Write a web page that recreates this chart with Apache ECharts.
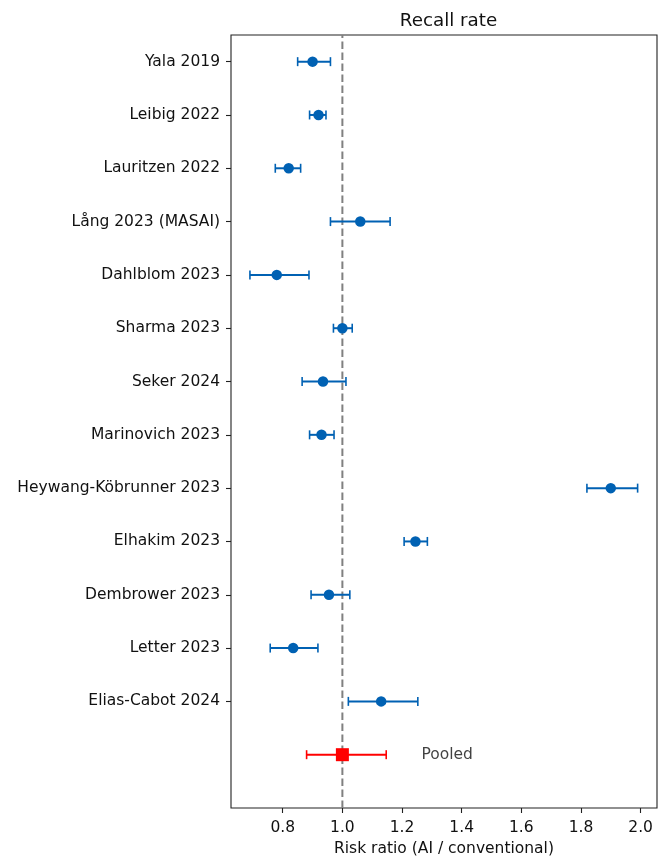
<!DOCTYPE html>
<html>
<head>
<meta charset="utf-8">
<title>Recall rate</title>
<script src="https://cdn.jsdelivr.net/npm/echarts@6/dist/echarts.min.js"></script>
<style>
  html, body { margin: 0; padding: 0; background: #fff; }
  #chart { width: 665px; height: 856px; }
</style>
</head>
<body>
<div id="chart"></div>
<script>
// Studies, listed top to bottom
const studies = [
  'Yala 2019', 'Leibig 2022', 'Lauritzen 2022', 'Lång 2023 (MASAI)',
  'Dahlblom 2023', 'Sharma 2023', 'Seker 2024', 'Marinovich 2023',
  'Heywang-Köbrunner 2023', 'Elhakim 2023', 'Dembrower 2023',
  'Letter 2023', 'Elias-Cabot 2024'
];
// Risk ratio (AI / conventional) with 95% CI
const rr    = [0.90, 0.92, 0.82, 1.06, 0.78, 1.00, 0.935, 0.93, 1.90, 1.245, 0.955, 0.835, 1.13];
const ciLow = [0.85, 0.89, 0.775, 0.96, 0.69, 0.97, 0.865, 0.89, 1.82, 1.207, 0.895, 0.758, 1.02];
const ciHigh= [0.96, 0.945, 0.86, 1.16, 0.888, 1.033, 1.012, 0.972, 1.99, 1.285, 1.025, 0.918, 1.253];

const pooledRR = 1.00;
const pooledLow = 0.88;
const pooledHigh = 1.147;
const pooledName = 'Pooled';

const xTicks = [0.8, 1.0, 1.2, 1.4, 1.6, 1.8, 2.0];
const refValue = 1.0;

// Row positions: first study on top, pooled estimate at 0
const n = studies.length;
const rowY = studies.map((_, i) => n - i);
const pooledY = 0;
const yMin = -1;
const yMax = n + 0.5;
const labelX = 1.265;

const FONT = 'DejaVu Sans';
const FS = 15.5;
const BLUE = '#0061b3';
const RED = '#ff0000';

const studyPoints = rr.map((v, i) => [v, rowY[i]]);
const studyBars = rr.map((_, i) => [ciLow[i], ciHigh[i], rowY[i]]);

function errorBar(color) {
  return function (params, api) {
    const y = api.value(2);
    const a = api.coord([api.value(0), y]);
    const b = api.coord([api.value(1), y]);
    const h = 4.5;
    return {
      type: 'group',
      children: [
        { type: 'line', shape: { x1: a[0], y1: a[1], x2: b[0], y2: b[1] },
          style: { stroke: color, lineWidth: 2 } },
        { type: 'line', shape: { x1: a[0], y1: a[1] - h, x2: a[0], y2: a[1] + h },
          style: { stroke: color, lineWidth: 1.6 } },
        { type: 'line', shape: { x1: b[0], y1: b[1] - h, x2: b[0], y2: b[1] + h },
          style: { stroke: color, lineWidth: 1.6 } }
      ]
    };
  };
}

const yLabelMap = {};
studies.forEach((s, i) => { yLabelMap[rowY[i]] = s; });

const chart = echarts.init(document.getElementById('chart'), null, { renderer: 'canvas' });

chart.setOption({
  animation: false,
  backgroundColor: '#fff',
  textStyle: { fontFamily: FONT },
  title: {
    text: 'Recall rate',
    left: 443.5,
    textAlign: 'center',
    top: 7,
    textStyle: { fontFamily: FONT, fontSize: 18.3, fontWeight: 'normal', color: '#111' }
  },
  grid: {
    left: 231, right: 8, top: 35, bottom: 48,
    outerBoundsMode: 'none',
    containLabel: false,
    show: true, borderColor: '#222', borderWidth: 1.1, backgroundColor: 'transparent'
  },
  xAxis: {
    type: 'value',
    min: 0.6265,
    max: 2.055,
    name: 'Risk ratio (AI / conventional)',
    nameLocation: 'middle',
    nameGap: 32,
    nameTextStyle: { fontFamily: FONT, fontSize: FS, color: '#111' },
    splitLine: { show: false },
    axisLine: { show: false, onZero: false },
    axisTick: { show: true, length: 5, inside: false, customValues: xTicks,
                lineStyle: { color: '#222', width: 1.1 } },
    axisLabel: { customValues: xTicks, margin: 12, fontFamily: FONT, fontSize: FS, color: '#111',
                 formatter: v => Number(v).toFixed(1) }
  },
  yAxis: {
    type: 'value',
    min: yMin,
    max: yMax,
    splitLine: { show: false },
    axisLine: { show: false, onZero: false },
    axisTick: { show: true, length: 5, customValues: rowY,
                lineStyle: { color: '#222', width: 1.1 } },
    axisLabel: { customValues: rowY, margin: 11, fontFamily: FONT, fontSize: FS, color: '#111',
                 formatter: v => yLabelMap[Math.round(v)] || '' }
  },
  series: [
    {
      name: 'reference',
      type: 'line',
      data: [[refValue, yMin], [refValue, yMax]],
      symbol: 'none',
      lineStyle: { color: '#808080', width: 2, type: [7.5, 3.5] },
      z: 1,
      silent: true
    },
    {
      name: 'study CI',
      type: 'custom',
      renderItem: errorBar(BLUE),
      encode: { x: [0, 1], y: 2 },
      data: studyBars,
      z: 2,
      silent: true
    },
    {
      name: 'studies',
      type: 'scatter',
      data: studyPoints,
      symbol: 'circle',
      symbolSize: 10.5,
      itemStyle: { color: BLUE, opacity: 1 },
      z: 3,
      silent: true
    },
    {
      name: 'pooled CI',
      type: 'custom',
      renderItem: errorBar(RED),
      encode: { x: [0, 1], y: 2 },
      data: [[pooledLow, pooledHigh, pooledY]],
      z: 2,
      silent: true
    },
    {
      name: 'pooled',
      type: 'scatter',
      data: [[pooledRR, pooledY]],
      symbol: 'rect',
      symbolSize: 13,
      itemStyle: { color: RED, opacity: 1 },
      z: 3,
      silent: true
    },
    {
      name: 'pooled label',
      type: 'scatter',
      data: [[labelX, pooledY]],
      symbolSize: 0,
      silent: true,
      label: {
        show: true, position: 'right', distance: 0,
        formatter: pooledName,
        fontFamily: FONT, fontSize: FS, color: '#111'
      },
      z: 3
    }
  ]
});
</script>
</body>
</html>
